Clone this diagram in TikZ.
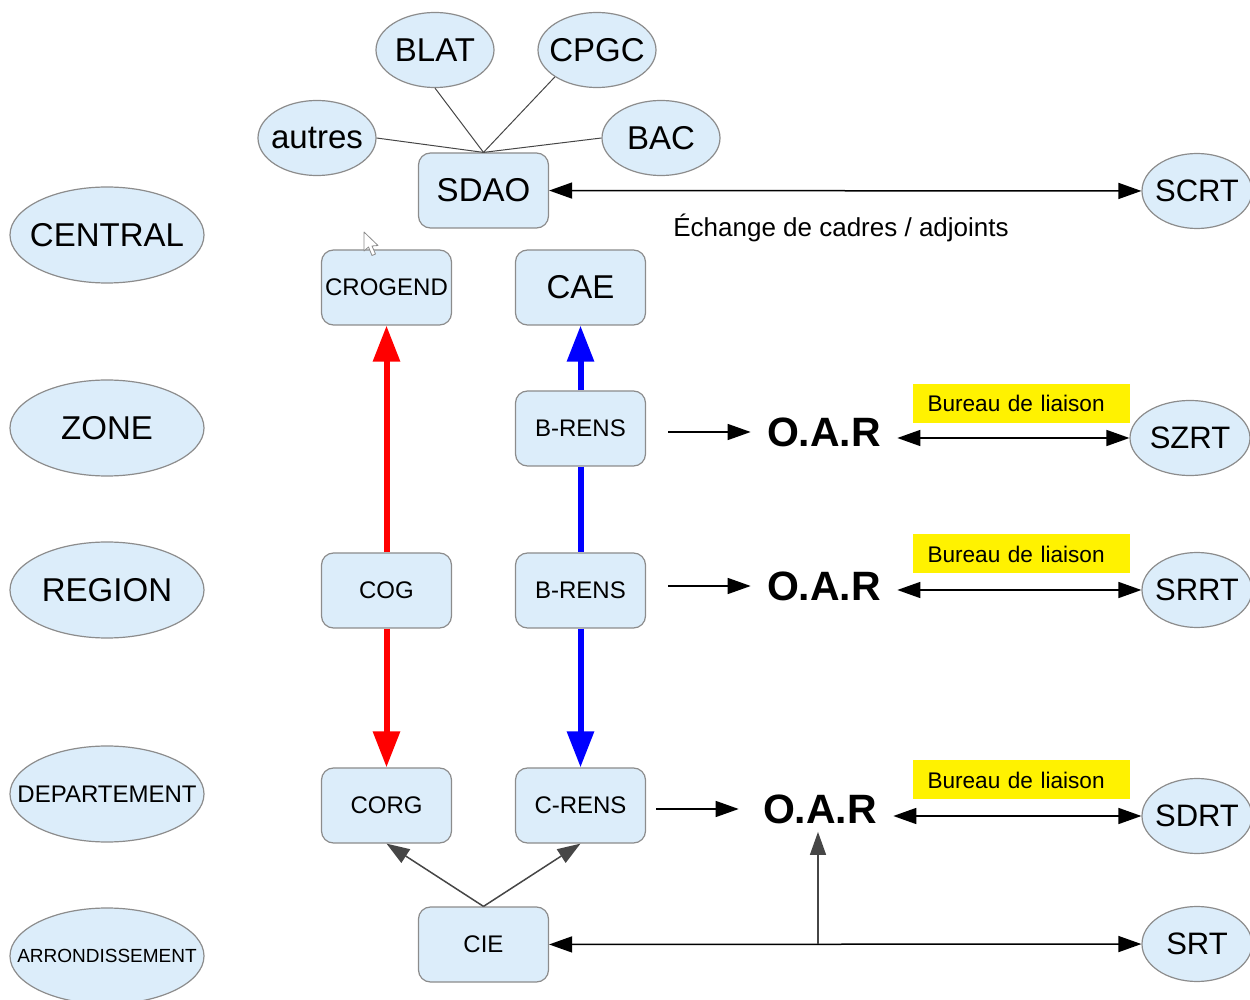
\documentclass[tikz,border=0pt]{standalone}
\usepackage{fontspec}
\setmainfont{Liberation Sans}
\usetikzlibrary{shapes.geometric,arrows.meta,calc}

\definecolor{bubble}{RGB}{220,237,250}
\definecolor{rim}{RGB}{140,140,140}
\definecolor{wire}{RGB}{70,70,70}

% zero-width box: the text may overhang the shape without widening it
\newcommand\zw[1]{\makebox[0pt]{#1}}

\begin{document}
\begin{tikzpicture}[x=0.5pt,y=-0.5pt,
  box/.style={draw=rim, fill=bubble, rounded corners=6pt, minimum width=65pt,
              minimum height=37.5pt, inner sep=0pt, line width=0.6pt},
  lvl/.style={ellipse, draw=rim, fill=bubble, minimum width=97pt,
              minimum height=48pt, inner sep=0pt, line width=0.6pt},
  bub/.style={ellipse, draw=rim, fill=bubble, minimum width=59pt,
              minimum height=37.5pt, inner sep=0pt, line width=0.6pt},
  big/.style={font=\fontsize{16.5}{18}\selectfont},
  small/.style={font=\fontsize{12}{14}\selectfont},
  oar/.style={font=\fontsize{20.5}{22}\selectfont\bfseries, inner xsep=8pt, inner ysep=4pt},
  tag/.style={fill=yellow, text width=94pt, align=left, inner xsep=7.25pt,
              inner ysep=0pt, minimum height=19.5pt, font=\fontsize{11.3}{13}\selectfont},
  link/.style={draw=wire, line width=0.5pt},
  arr/.style={line width=0.75pt, -{Triangle[length=11.5pt,width=8pt]}},
  darr/.style={line width=0.75pt, {Triangle[length=11.5pt,width=8pt]}-{Triangle[length=11.5pt,width=8pt]}},
  fat/.style={line width=3pt, -{Triangle[length=18pt,width=13pt]}}
]
\useasboundingbox (0,0) rectangle (1250,1000);

% hierarchy levels
\node[lvl, big] (central) at (107,235) {\zw{CENTRAL}};
\node[lvl, big] (zone)    at (107,428) {\zw{ZONE}};
\node[lvl, big] (region)  at (107,590) {\zw{REGION}};
\node[lvl, font=\fontsize{12}{14}\selectfont] (dept) at (107,794) {\zw{DEPARTEMENT}};
\node[lvl, font=\fontsize{9.5}{11}\selectfont] (arrond) at (107,956) {\zw{ARRONDISSEMENT}};

% central services
\node[bub, big] (blat)   at (435,50)  {\zw{BLAT}};
\node[bub, big] (cpgc)   at (597,50)  {\zw{CPGC}};
\node[bub, big] (autres) at (317,138) {\zw{autres}};
\node[bub, big] (bac)    at (661,138) {\zw{BAC}};
\node[box, big] (sdao)   at (483.5,190.5) {SDAO};

\draw[link] (autres.east) -- (sdao.north);
\draw[link] (blat.south) -- (sdao.north);
\draw[link] (cpgc.south west) -- (sdao.north);
\draw[link] (bac.west) -- (sdao.north);

% partner services on the right
\node[bub, minimum width=55pt, font=\fontsize{15.5}{17}\selectfont] (scrt) at (1197,191) {\zw{SCRT}};
\node[bub, minimum width=60pt, font=\fontsize{15.5}{17}\selectfont] (szrt) at (1190,438) {\zw{SZRT}};
\node[bub, minimum width=55pt, font=\fontsize{15.5}{17}\selectfont] (srrt) at (1197,590) {\zw{SRRT}};
\node[bub, minimum width=55pt, font=\fontsize{15.5}{17}\selectfont] (sdrt) at (1197,816) {\zw{SDRT}};
\node[bub, minimum width=55pt, font=\fontsize{15.5}{17}\selectfont] (srt)  at (1197,944) {\zw{SRT}};

\draw[darr] (sdao) -- (scrt);
\node[font=\fontsize{13}{15}\selectfont] (echange) at (841,228) {Échange de cadres / adjoints};

% chains of command
\node[box, small] (crogend) at (386.5,287.5) {CROGEND};
\node[box, big]   (cae)     at (580.5,287.5) {CAE};
\node[box, small] (brensz)  at (580.5,428.5) {B-RENS};
\node[box, small] (cog)     at (386.5,590.5) {COG};
\node[box, small] (brensr)  at (580.5,590.5) {B-RENS};
\node[box, small] (corg)    at (386.5,805.5) {CORG};
\node[box, small] (crens)   at (580.5,805.5) {C-RENS};
\node[box, small] (cie)     at (483.5,944.5) {CIE};

\draw[fat, red] (cog) -- (crogend);
\draw[fat, red] (cog) -- (corg);
\draw[fat, blue] (brensz) -- (cae);
\draw[line width=3pt, blue] (brensz) -- (brensr);
\draw[fat, blue] (brensr) -- (crens);

\draw[arr, draw=wire] (cie.north) -- (corg.south);
\draw[arr, draw=wire] (cie.north) -- (crens.south);

% O.A.R relays and liaison offices
\node[oar] (oar1) at (824,432) {O.A.R};
\node[oar] (oar2) at (824,586) {O.A.R};
\node[oar] (oar3) at (820,809) {O.A.R};

\draw[arr] (brensz.east |- oar1.west) [shorten <=11pt] -- (oar1.west);
\draw[arr] (brensr.east |- oar2.west) [shorten <=11pt] -- (oar2.west);
\draw[arr] (crens.east |- oar3.west) [shorten <=5pt, shorten >=4pt] -- (oar3.west);

\draw[darr] (oar1.east |- szrt.west) -- (szrt.west);
\draw[darr] (oar2.east |- srrt.west) -- (srrt.west);
\draw[darr] (oar3.east |- sdrt.west) -- (sdrt.west);

\node[tag] (bl1) at (1021.5,403.5) {Bureau de liaison};
\node[tag] (bl2) at (1021.5,554)   {Bureau de liaison};
\node[tag] (bl3) at (1021.5,780)   {Bureau de liaison};

\draw[darr] (cie) -- (srt);
\coordinate (tap) at (818,944);
\draw[arr, draw=wire] (tap) -- (tap |- oar3.south);

% mouse pointer
\draw[fill=white, draw=rim, line width=0.4pt, line join=round]
  (364,232) -- (364,251) -- (368.5,247) -- (372,255.5) -- (375.5,254) -- (372,246) -- (378,245.5) -- cycle;
\end{tikzpicture}
\end{document}
